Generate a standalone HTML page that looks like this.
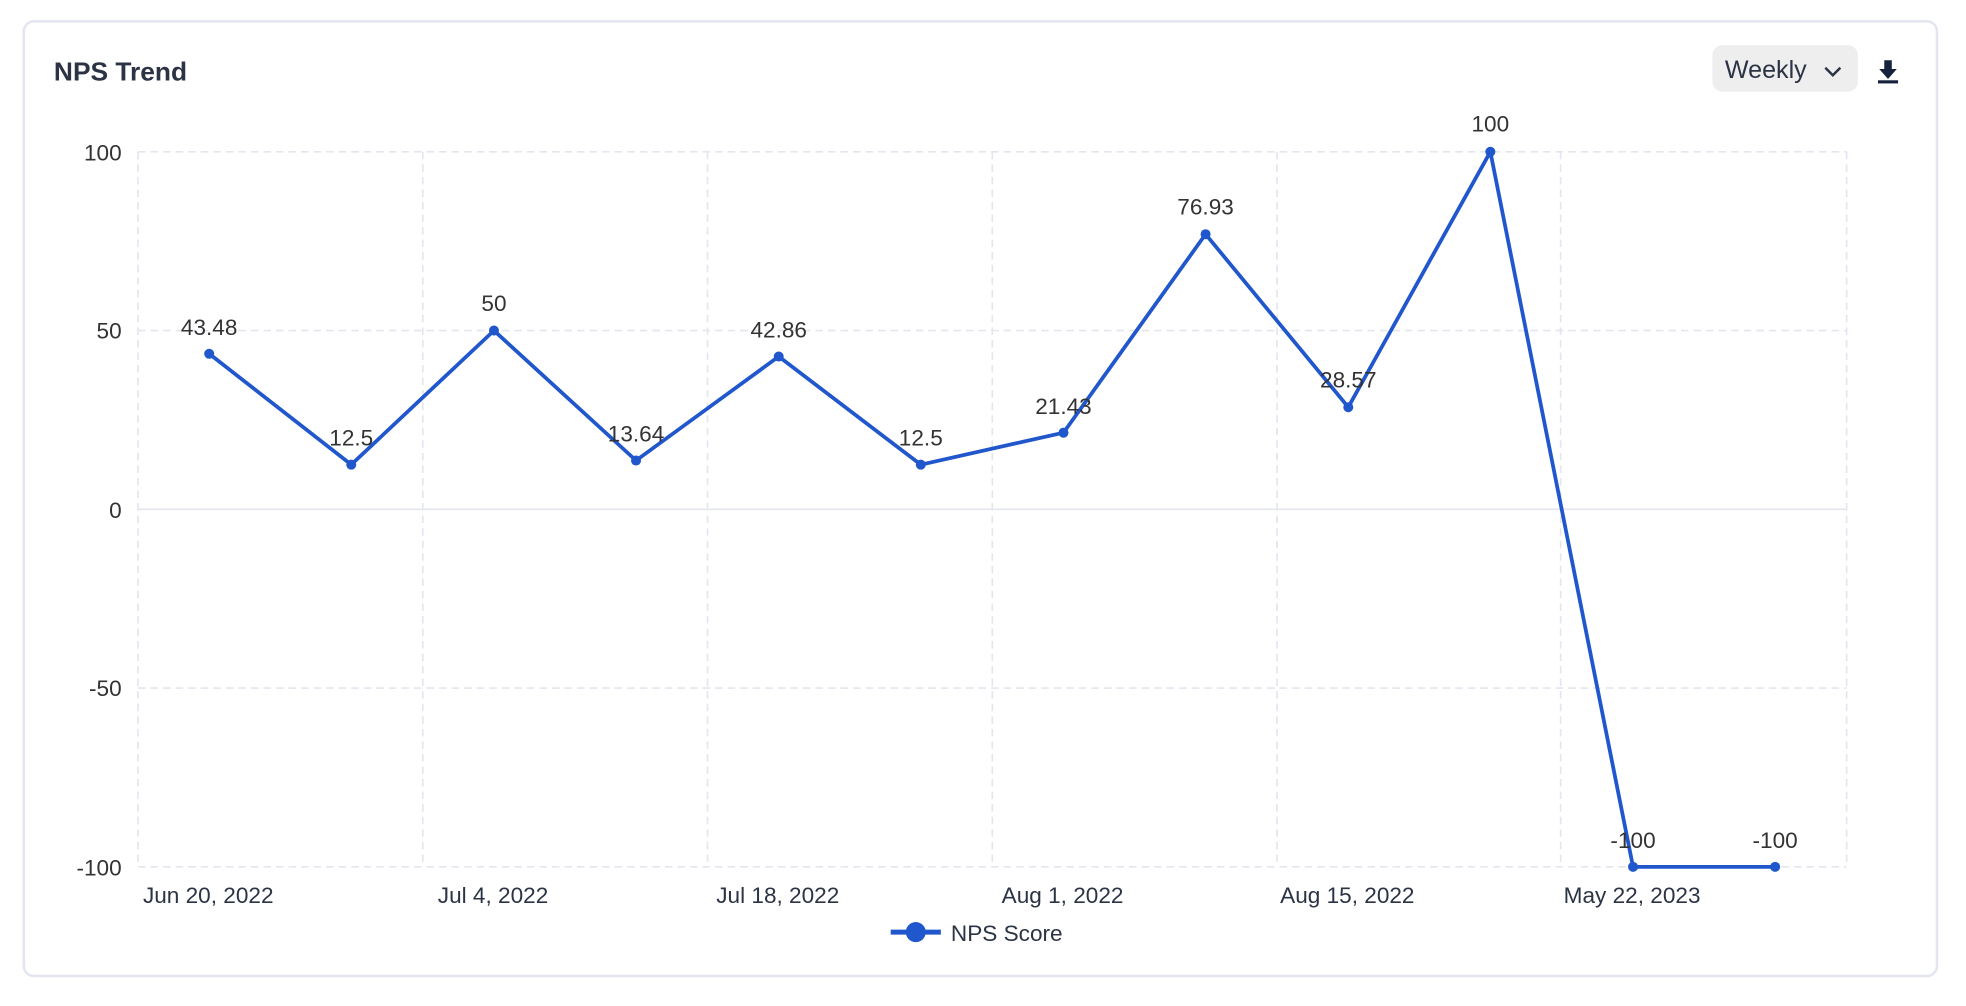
<!DOCTYPE html>
<html><head><style>
html,body{margin:0;padding:0;background:#fff;width:1966px;height:1004px;overflow:hidden}
#w{position:absolute;left:0;top:0;width:1560px;height:797px;transform:scale(1.2545);transform-origin:0 0;font-family:"Liberation Sans",sans-serif}
</style></head><body><div id="w">
<svg width="1560" height="797" xmlns="http://www.w3.org/2000/svg" font-family="Liberation Sans, sans-serif">
<rect x="19" y="17" width="1525" height="761" rx="8" fill="#fff" stroke="#e3e6ef" stroke-width="2"/>
<text x="43" y="64" font-size="21" font-weight="bold" fill="#2b3344">NPS Trend</text>
<rect x="1365" y="36" width="116" height="37" rx="8" fill="#eeeeee"/>
<text x="1375" y="62" font-size="20" fill="#2b3344">Weekly</text>
<polyline points="1455,54 1461,60 1467,54" fill="none" stroke="#2b3344" stroke-width="2"/>
<path d="M1502,48h6v7h4l-7,8l-7,-8h4z" fill="#15213d"/>
<rect x="1497" y="64" width="16" height="2.5" fill="#15213d"/>
<g stroke="#e3e6ef" stroke-width="1.3" stroke-dasharray="6,4" fill="none">
<line x1="110" y1="121" x2="1472" y2="121"/><line x1="110" y1="263.5" x2="1472" y2="263.5"/>
<line x1="110" y1="548.5" x2="1472" y2="548.5"/><line x1="110" y1="691" x2="1472" y2="691"/>
<line x1="110" y1="121" x2="110" y2="691"/><line x1="337" y1="121" x2="337" y2="691"/>
<line x1="564" y1="121" x2="564" y2="691"/><line x1="791" y1="121" x2="791" y2="691"/>
<line x1="1018" y1="121" x2="1018" y2="691"/><line x1="1244" y1="121" x2="1244" y2="691"/>
<line x1="1472" y1="121" x2="1472" y2="691"/>
</g>
<line x1="110" y1="406" x2="1472" y2="406" stroke="#e3e6ef" stroke-width="1.3"/>
<g font-size="18" fill="#333" text-anchor="end">
<text x="97" y="128">100</text><text x="97" y="270">50</text><text x="97" y="413">0</text>
<text x="97" y="555">-50</text><text x="97" y="698">-100</text>
</g>
<g font-size="18" fill="#2b3344" text-anchor="middle">
<text x="166" y="720">Jun 20, 2022</text><text x="393" y="720">Jul 4, 2022</text>
<text x="620" y="720">Jul 18, 2022</text><text x="847" y="720">Aug 1, 2022</text>
<text x="1074" y="720">Aug 15, 2022</text><text x="1301" y="720">May 22, 2023</text>
</g>
<polyline fill="none" stroke="#2157cc" stroke-width="3" stroke-linejoin="round" points="166.75,282 280,370.4 393.75,263.5 507,367.1 620.75,284.2 734,370.4 847.75,344.9 961,186.7 1074.75,324.6 1188,121 1301.75,691 1415,691"/>
<g fill="#2157cc">
<circle cx="166.75" cy="282" r="4"/><circle cx="280" cy="370.4" r="4"/><circle cx="393.75" cy="263.5" r="4"/>
<circle cx="507" cy="367.1" r="4"/><circle cx="620.75" cy="284.2" r="4"/><circle cx="734" cy="370.4" r="4"/>
<circle cx="847.75" cy="344.9" r="4"/><circle cx="961" cy="186.7" r="4"/><circle cx="1074.75" cy="324.6" r="4"/>
<circle cx="1188" cy="121" r="4"/><circle cx="1301.75" cy="691" r="4"/><circle cx="1415" cy="691" r="4"/>
</g>
<g font-size="18" fill="#333" text-anchor="middle">
<text x="166.75" y="267">43.48</text><text x="280" y="355">12.5</text><text x="393.75" y="248">50</text>
<text x="507" y="352">13.64</text><text x="620.75" y="269">42.86</text><text x="734" y="355">12.5</text>
<text x="847.75" y="330">21.43</text><text x="961" y="171">76.93</text><text x="1074.75" y="309">28.57</text>
<text x="1188" y="105">100</text><text x="1301.75" y="676">-100</text><text x="1415" y="676">-100</text>
</g>
<line x1="710" y1="743" x2="750" y2="743" stroke="#2157cc" stroke-width="4"/>
<circle cx="730" cy="743" r="8" fill="#2157cc"/>
<text x="758" y="750" font-size="18" fill="#2b3344">NPS Score</text>
</svg>
</div></body></html>
